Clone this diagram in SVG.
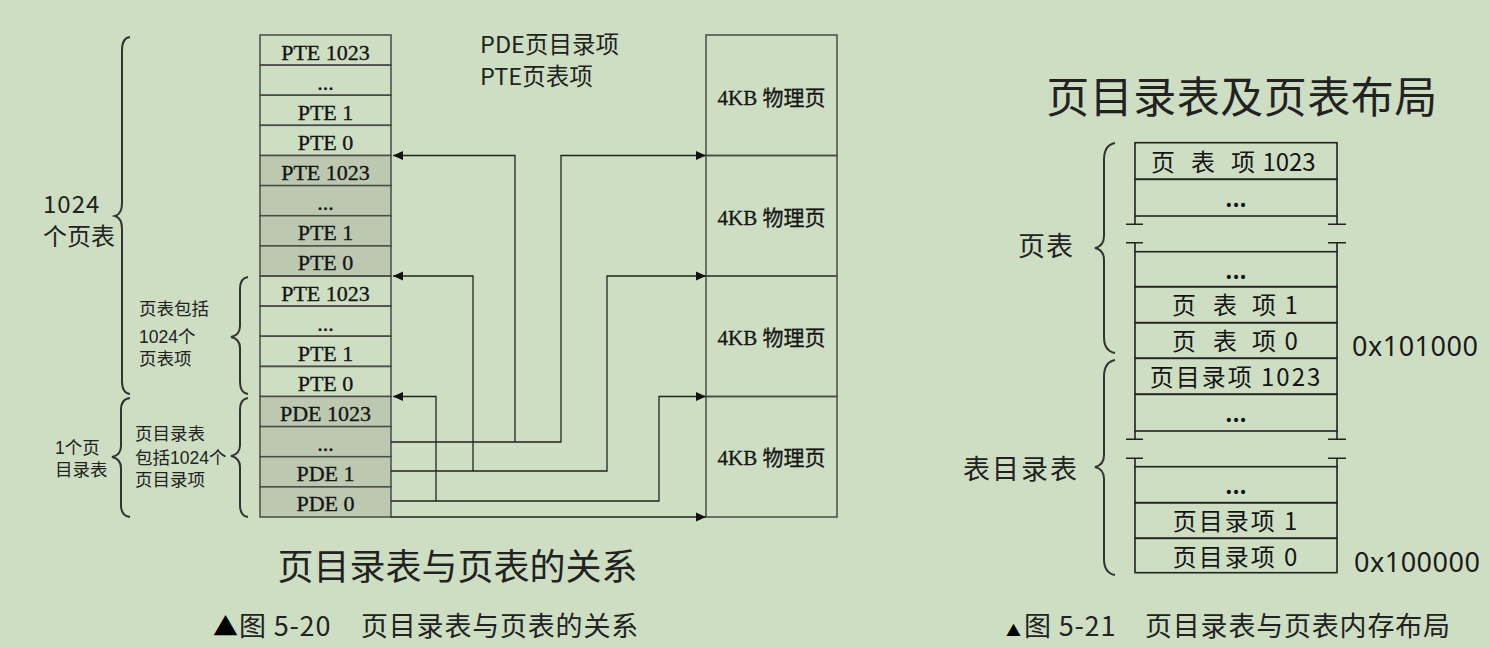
<svg xmlns="http://www.w3.org/2000/svg" width="1489" height="648" viewBox="0 0 1489 648">
<defs>
<marker id="arr" viewBox="0 0 10 10" refX="10" refY="5" markerWidth="10" markerHeight="10" markerUnits="userSpaceOnUse" orient="auto"><path d="M0,0.5 L10,5 L0,9.5 z" fill="#111"/></marker>
<style>
.cell{fill:none;stroke:#4a4a4a;stroke-width:1.5}
.sh{fill:#bcc8b0;stroke:#4a4a4a;stroke-width:1.5}
.ser{font-family:"Liberation Serif","Noto Sans CJK SC",serif;font-size:22px;fill:#151515;stroke:#151515;stroke-width:0.35;text-anchor:middle}
.pg{font-family:"Liberation Serif","Noto Sans CJK SC",serif;font-size:21px;fill:#151515;stroke:#151515;stroke-width:0.3;text-anchor:middle}
.sans{font-family:"Noto Sans CJK SC","Noto Sans",sans-serif;fill:#222}
.small{font-family:"Liberation Sans","Noto Sans CJK SC",sans-serif;font-size:17.5px;fill:#222}
.brace{fill:none;stroke:#333;stroke-width:2}
.conn{fill:none;stroke:#222;stroke-width:1.3}
.rt{fill:none;stroke:#222;stroke-width:1.6}
.rtx{font-family:"Noto Sans CJK SC","Noto Sans",sans-serif;font-size:24px;fill:#151515}
.dots{font-family:"Noto Sans CJK SC","Noto Sans",sans-serif;font-size:22px;font-weight:bold;fill:#151515;text-anchor:middle}
</style>
</defs>
<rect width="1489" height="648" fill="#cedec3"/>

<!-- left table -->
<g id="pt-a-1023"><rect class="cell" x="260" y="35" width="131" height="30.1"/><text class="ser" x="325.5" y="59.5">PTE 1023</text></g>
<g id="pt-a-dots"><rect class="cell" x="260" y="65.1" width="131" height="30.1"/><text class="ser" x="325.5" y="89.6">...</text></g>
<g id="pt-a-1"><rect class="cell" x="260" y="95.2" width="131" height="30.1"/><text class="ser" x="325.5" y="119.7">PTE 1</text></g>
<g id="pt-a-0"><rect class="cell" x="260" y="125.3" width="131" height="30.2"/><text class="ser" x="325.5" y="149.8">PTE 0</text></g>
<g id="pt-b-1023"><rect class="sh" x="260" y="155.5" width="131" height="30.1"/><text class="ser" x="325.5" y="180">PTE 1023</text></g>
<g id="pt-b-dots"><rect class="sh" x="260" y="185.6" width="131" height="30.1"/><text class="ser" x="325.5" y="210.1">...</text></g>
<g id="pt-b-1"><rect class="sh" x="260" y="215.7" width="131" height="30.2"/><text class="ser" x="325.5" y="240.2">PTE 1</text></g>
<g id="pt-b-0"><rect class="sh" x="260" y="245.9" width="131" height="30.1"/><text class="ser" x="325.5" y="270.4">PTE 0</text></g>
<g id="pt-c-1023"><rect class="cell" x="260" y="276" width="131" height="30.1"/><text class="ser" x="325.5" y="300.5">PTE 1023</text></g>
<g id="pt-c-dots"><rect class="cell" x="260" y="306.1" width="131" height="30.1"/><text class="ser" x="325.5" y="330.6">...</text></g>
<g id="pt-c-1"><rect class="cell" x="260" y="336.2" width="131" height="30.2"/><text class="ser" x="325.5" y="360.7">PTE 1</text></g>
<g id="pt-c-0"><rect class="cell" x="260" y="366.4" width="131" height="30.1"/><text class="ser" x="325.5" y="390.9">PTE 0</text></g>
<g id="pde-1023"><rect class="sh" x="260" y="396.5" width="131" height="30.1"/><text class="ser" x="325.5" y="421">PDE 1023</text></g>
<g id="pde-dots"><rect class="sh" x="260" y="426.6" width="131" height="30.1"/><text class="ser" x="325.5" y="451.1">...</text></g>
<g id="pde-1"><rect class="sh" x="260" y="456.7" width="131" height="30.2"/><text class="ser" x="325.5" y="481.2">PDE 1</text></g>
<g id="pde-0"><rect class="sh" x="260" y="486.9" width="131" height="30.1"/><text class="ser" x="325.5" y="511.4">PDE 0</text></g>

<!-- physical pages -->
<g id="page-1"><rect class="cell" x="706" y="35" width="131" height="120.5"/><text class="pg" x="771.5" y="105">4KB 物理页</text></g>
<g id="page-2"><rect class="cell" x="706" y="155.5" width="131" height="120.5"/><text class="pg" x="771.5" y="225">4KB 物理页</text></g>
<g id="page-3"><rect class="cell" x="706" y="276" width="131" height="120.5"/><text class="pg" x="771.5" y="345">4KB 物理页</text></g>
<g id="page-4"><rect class="cell" x="706" y="396.5" width="131" height="120.5"/><text class="pg" x="771.5" y="465">4KB 物理页</text></g>

<!-- legend -->
<g id="legend">
<text class="sans" x="480" y="53" font-size="23.5">PDE页目录项</text>
<text class="sans" x="480" y="85" font-size="23.5">PTE页表项</text>
</g>

<!-- connectors -->
<g id="connectors">
<path class="conn" d="M391,442 H561 V155.5 H706" marker-end="url(#arr)"/>
<path class="conn" d="M515,442 V155.5 H393" marker-end="url(#arr)"/>
<path class="conn" d="M391,471 H607 V276 H706" marker-end="url(#arr)"/>
<path class="conn" d="M473,471 V276 H393" marker-end="url(#arr)"/>
<path class="conn" d="M391,501 H659 V396.5 H706" marker-end="url(#arr)"/>
<path class="conn" d="M436,501 V396.5 H393" marker-end="url(#arr)"/>
<path class="conn" d="M391,517 H706" marker-end="url(#arr)"/>
</g>

<!-- left braces and labels -->
<g id="brace-1024">
<path class="brace" d="M130,37 Q122,38 122,50 V203 Q122,214 115,216 Q122,218 122,229 V381 Q122,393 130,394"/>
<text class="sans" x="43" y="213" font-size="24" letter-spacing="1">1024</text>
<text class="sans" x="43" y="245" font-size="24">个页表</text>
</g>
<g id="brace-pt">
<path class="brace" d="M248,277 Q240,278 240,289 V326 Q240,335 231,337 Q240,339 240,348 V382 Q240,393 248,394"/>
<text class="small" x="139" y="315">页表包括</text>
<text class="small" x="139" y="342.5">1024个</text>
<text class="small" x="139" y="365">页表项</text>
</g>
<g id="brace-pd1">
<path class="brace" d="M130,398 Q121,399 121,410 V446 Q121,455 112,457 Q121,459 121,468 V505 Q121,516 130,517"/>
<text class="small" x="55" y="454">1个页</text>
<text class="small" x="55" y="476">目录表</text>
</g>
<g id="brace-pd2">
<path class="brace" d="M248,398 Q240,399 240,410 V445 Q240,454 231,456 Q240,458 240,467 V505 Q240,516 248,517"/>
<text class="small" x="135" y="440">页目录表</text>
<text class="small" x="135" y="463.5">包括1024个</text>
<text class="small" x="135" y="486">页目录项</text>
</g>

<g id="title-left"><text class="sans" x="457.5" y="580" font-size="36" text-anchor="middle">页目录表与页表的关系</text></g>
<g id="caption-left">
<text class="sans" y="636" font-size="27"><tspan x="213" fill="#000" font-size="25">▲</tspan><tspan x="239" letter-spacing="0.8">图 5-20</tspan><tspan x="361" letter-spacing="0.8">页目录表与页表的关系</tspan></text>
</g>

<!-- right diagram -->
<g id="title-right"><text class="sans" x="1242" y="113" font-size="43" text-anchor="middle" letter-spacing="0.5">页目录表及页表布局</text></g>

<g id="rt-pte-1023"><rect class="rt" x="1135" y="142.7" width="202" height="36.6"/><text class="rtx" x="1151 1175 1191 1215 1231 1257" y="171">页 表 项 1023</text></g>
<g id="rt-pte-dots1"><rect class="rt" x="1135" y="179.3" width="202" height="36.7"/><text class="dots" x="1236" y="207">...</text></g>
<g id="rt-break-1">
<path class="rt" d="M1135,216 V224.3 M1126,224.3 H1143 M1337,216 V224.3 M1328,224.3 H1346 M1126,242.7 H1143 M1135,242.7 V251.7 M1328,242.7 H1346 M1337,242.7 V251.7"/>
</g>
<g id="rt-pte-dots2"><rect class="rt" x="1135" y="251.7" width="202" height="35"/><text class="dots" x="1236" y="279">...</text></g>
<g id="rt-pte-1"><rect class="rt" x="1135" y="286.7" width="202" height="36"/><text class="rtx" x="1172 1196 1213 1237 1252 1279" y="314">页 表 项 1</text></g>
<g id="rt-pte-0"><rect class="rt" x="1135" y="322.7" width="202" height="35.6"/><text class="rtx" x="1172 1196 1213 1237 1252 1279" y="350">页 表 项 0</text></g>
<g id="rt-pde-1023"><rect class="rt" x="1135" y="358.3" width="202" height="36"/><text class="rtx" x="1236" y="386" text-anchor="middle" letter-spacing="2">页目录项 1023</text></g>
<g id="rt-pde-dots1"><rect class="rt" x="1135" y="394.3" width="202" height="36.7"/><text class="dots" x="1236" y="422">...</text></g>
<g id="rt-break-2">
<path class="rt" d="M1135,431 V439.3 M1126,439.3 H1143 M1337,431 V439.3 M1328,439.3 H1346 M1126,458.3 H1143 M1135,458.3 V466.7 M1328,458.3 H1346 M1337,458.3 V466.7"/>
</g>
<g id="rt-pde-dots2"><rect class="rt" x="1135" y="466.7" width="202" height="36"/><text class="dots" x="1236" y="494">...</text></g>
<g id="rt-pde-1"><rect class="rt" x="1135" y="502.7" width="202" height="35.6"/><text class="rtx" x="1236" y="530" text-anchor="middle" letter-spacing="2">页目录项 1</text></g>
<g id="rt-pde-0"><rect class="rt" x="1135" y="538.3" width="202" height="34.4"/><text class="rtx" x="1236" y="566" text-anchor="middle" letter-spacing="2">页目录项 0</text></g>

<g id="brace-rt-pt">
<path class="brace" d="M1115,143 Q1104,145 1104,160 V236 Q1104,246 1095,248 Q1104,250 1104,260 V337 Q1104,351 1115,353"/>
<text class="sans" x="1018" y="256" font-size="27" letter-spacing="1">页表</text>
</g>
<g id="brace-rt-pd">
<path class="brace" d="M1115,360 Q1104,362 1104,377 V455 Q1104,465 1095,467 Q1104,469 1104,479 V559 Q1104,573 1115,575"/>
<text class="sans" x="963" y="479" font-size="27" letter-spacing="2">表目录表</text>
</g>

<g id="addr-101000"><text x="1352" y="356" font-family="'Noto Sans',sans-serif" font-size="27" fill="#1a1a1a" letter-spacing="0.5">0x101000</text></g>
<g id="addr-100000"><text x="1354" y="572" font-family="'Noto Sans',sans-serif" font-size="27" fill="#1a1a1a" letter-spacing="0.5">0x100000</text></g>

<g id="caption-right">
<text class="sans" y="636" font-size="27"><tspan x="1006" fill="#000" font-size="15">▲</tspan><tspan x="1024" letter-spacing="0.8">图 5-21</tspan><tspan x="1145" letter-spacing="0.8">页目录表与页表内存布局</tspan></text>
</g>
</svg>
